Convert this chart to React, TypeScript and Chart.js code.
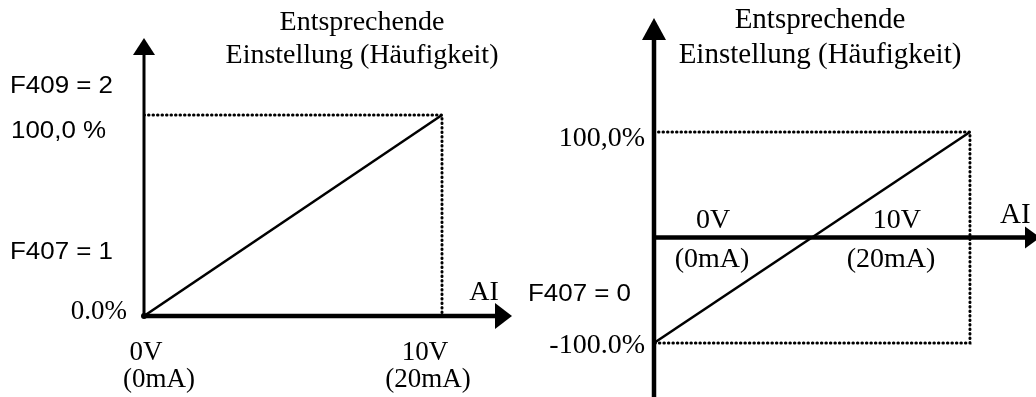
import React, { useEffect, useRef } from "react";
import { Chart, registerables } from "chart.js";

Chart.register(...registerables);

// ---- data ----
const AI_VOLTS = [0, 10];
const LEFT_SETTING = [0, 100];
const RIGHT_SETTING = [-100, 100];
const X_TICK_LABELS = ["0V", "10V"];
const X_TICK_SUBLABELS = ["(0mA)", "(20mA)"];
const LEFT_Y_LABELS = ["0.0%", "100,0 %"];
const RIGHT_Y_LABELS = ["-100.0%", "100,0%"];
const LEFT_PARAMS = ["F409 = 2", "F407 = 1"];
const RIGHT_PARAMS = ["F407 = 0"];
const TITLE_LINES = ["Entsprechende", "Einstellung (Häufigkeit)"];
const AXIS_NAME = "AI";

const SERIF = "'Liberation Serif', 'Times New Roman', serif";
const SANS = "'Liberation Sans', Arial, sans-serif";
const SANS_FONT = `24px ${SANS}`;
const SANS_SX = 1.08;

function txt(
  ctx: CanvasRenderingContext2D,
  s: string,
  x: number,
  y: number,
  font: string,
  align: CanvasTextAlign,
  sx = 1
) {
  ctx.save();
  ctx.font = font;
  ctx.fillStyle = "#000";
  ctx.textAlign = align;
  ctx.textBaseline = "alphabetic";
  ctx.translate(x, y);
  ctx.scale(sx, 1);
  ctx.fillText(s, 0, 0);
  ctx.restore();
}

function arrowUp(ctx: CanvasRenderingContext2D, x: number, tipY: number, hw: number, len: number) {
  ctx.beginPath();
  ctx.moveTo(x, tipY);
  ctx.lineTo(x - hw, tipY + len);
  ctx.lineTo(x + hw, tipY + len);
  ctx.closePath();
  ctx.fill();
}
function arrowRight(ctx: CanvasRenderingContext2D, tipX: number, y: number, hh: number, len: number) {
  ctx.beginPath();
  ctx.moveTo(tipX, y);
  ctx.lineTo(tipX - len, y - hh);
  ctx.lineTo(tipX - len, y + hh);
  ctx.closePath();
  ctx.fill();
}

type PanelProps = { side: "left" | "right" };

function Panel({ side }: PanelProps) {
  const ref = useRef<HTMLCanvasElement | null>(null);
  useEffect(() => {
    if (!ref.current) return;
    const isLeft = side === "left";
    const ys = isLeft ? LEFT_SETTING : RIGHT_SETTING;
    const mainData = AI_VOLTS.map((v, i) => ({ x: v, y: ys[i] }));
    const guide = isLeft
      ? [
          { x: AI_VOLTS[0], y: ys[1] },
          { x: AI_VOLTS[1], y: ys[1] },
          { x: AI_VOLTS[1], y: 0 },
        ]
      : [
          { x: AI_VOLTS[0], y: ys[1] },
          { x: AI_VOLTS[1], y: ys[1] },
          { x: AI_VOLTS[1], y: ys[0] },
          { x: AI_VOLTS[0], y: ys[0] },
        ];

    const decor = {
      id: "decor",
      afterDatasetsDraw(chart: any) {
        const ctx: CanvasRenderingContext2D = chart.ctx;
        const xs = chart.scales.x;
        const yS = chart.scales.y;
        const area = chart.chartArea;
        const x0 = xs.getPixelForValue(AI_VOLTS[0]);
        const x10 = xs.getPixelForValue(AI_VOLTS[1]);
        const y0 = yS.getPixelForValue(0);
        const yTop = yS.getPixelForValue(ys[1]);
        const yBot = yS.getPixelForValue(ys[0]);
        ctx.save();
        ctx.fillStyle = "#000";
        ctx.strokeStyle = "#000";
        ctx.lineCap = "butt";
        if (isLeft) {
          // y axis
          ctx.lineWidth = 3;
          ctx.beginPath();
          ctx.moveTo(x0, y0 + 2);
          ctx.lineTo(x0, area.top + 14);
          ctx.stroke();
          arrowUp(ctx, x0, area.top, 11, 17);
          // x axis
          ctx.lineWidth = 4.5;
          ctx.beginPath();
          ctx.moveTo(x0 - 1, y0);
          ctx.lineTo(area.right - 14, y0);
          ctx.stroke();
          arrowRight(ctx, area.right, y0, 13, 17);
          ctx.beginPath();
          ctx.arc(x0, y0, 3, 0, Math.PI * 2);
          ctx.fill();

          txt(ctx, LEFT_PARAMS[0], 10, yTop - 22, SANS_FONT, "left", SANS_SX);
          txt(ctx, LEFT_Y_LABELS[1], 11, yTop + 23, SANS_FONT, "left", SANS_SX);
          txt(ctx, LEFT_PARAMS[1], 10, y0 - 57, SANS_FONT, "left", SANS_SX);
          txt(ctx, LEFT_Y_LABELS[0], x0 - 17, y0 + 3, `27px ${SERIF}`, "right");
          txt(ctx, X_TICK_LABELS[0], x0 + 2, y0 + 44, `27px ${SERIF}`, "center");
          txt(ctx, X_TICK_SUBLABELS[0], x0 + 15, y0 + 71, `27px ${SERIF}`, "center");
          txt(ctx, X_TICK_LABELS[1], x10 - 17, y0 + 44, `27px ${SERIF}`, "center");
          txt(ctx, X_TICK_SUBLABELS[1], x10 - 14, y0 + 71, `27px ${SERIF}`, "center");
          txt(ctx, AXIS_NAME, area.right - 28, y0 - 16, `28px ${SERIF}`, "center");
          txt(ctx, TITLE_LINES[0], x0 + 218, 30, `28px ${SERIF}`, "center");
          txt(ctx, TITLE_LINES[1], x0 + 218, 63, `28px ${SERIF}`, "center");
        } else {
          ctx.lineWidth = 4.5;
          ctx.beginPath();
          ctx.moveTo(x0, area.bottom);
          ctx.lineTo(x0, area.top + 18);
          ctx.stroke();
          arrowUp(ctx, x0, area.top, 12, 22);
          ctx.beginPath();
          ctx.moveTo(x0 - 2, y0);
          ctx.lineTo(area.right - 8, y0);
          ctx.stroke();
          arrowRight(ctx, area.right + 4, y0, 11, 15);

          txt(ctx, RIGHT_Y_LABELS[1], x0 - 9, yTop + 14, `28px ${SERIF}`, "right");
          txt(ctx, RIGHT_Y_LABELS[0], x0 - 9, yBot + 10, `28px ${SERIF}`, "right");
          txt(ctx, RIGHT_PARAMS[0], 10, yBot - 42, SANS_FONT, "left", SANS_SX);
          txt(ctx, X_TICK_LABELS[0], x0 + 59, y0 - 10, `28px ${SERIF}`, "center");
          txt(ctx, X_TICK_SUBLABELS[0], x0 + 58, y0 + 29, `28px ${SERIF}`, "center");
          txt(ctx, X_TICK_LABELS[1], x10 - 73, y0 - 10, `28px ${SERIF}`, "center");
          txt(ctx, X_TICK_SUBLABELS[1], x10 - 79, y0 + 29, `28px ${SERIF}`, "center");
          txt(ctx, AXIS_NAME, area.right - 36, y0 - 15, `29px ${SERIF}`, "left");
          txt(ctx, TITLE_LINES[0], x0 + 166, 28, `29px ${SERIF}`, "center");
          txt(ctx, TITLE_LINES[1], x0 + 166, 63, `29px ${SERIF}`, "center");
        }
        ctx.restore();
      },
    };

    const chart = new Chart(ref.current, {
      type: "line",
      data: {
        datasets: [
          {
            data: guide,
            borderColor: "#000",
            borderWidth: 3,
            borderDash: [0.5, 4],
            borderCapStyle: "round",
            pointRadius: 0,
            fill: false,
          },
          {
            data: mainData,
            borderColor: "#000",
            borderWidth: 2.5,
            pointRadius: 0,
            fill: false,
          },
        ],
      },
      options: {
        responsive: false,
        animation: false,
        devicePixelRatio: 1,
        layout: {
          padding: isLeft
            ? { left: 144, right: 6, top: 38, bottom: 81 }
            : { left: 136, right: 0, top: 18, bottom: 0 },
        },
        scales: {
          x: {
            type: "linear",
            display: false,
            min: 0,
            max: isLeft ? 12.349 : 12.09,
          },
          y: {
            type: "linear",
            display: false,
            min: isLeft ? 0 : -151.2,
            max: isLeft ? 138.3 : 208.1,
          },
        },
        plugins: {
          legend: { display: false },
          tooltip: { enabled: false },
          title: { display: false },
        },
        elements: { line: { tension: 0 } },
      },
      plugins: [decor],
    });
    return () => chart.destroy();
  }, [side]);

  return (
    <canvas
      ref={ref}
      width={518}
      height={397}
      style={{ position: "absolute", top: 0, left: side === "left" ? 0 : 518, width: 518, height: 397 }}
    />
  );
}

export default function App() {
  return (
    <div
      style={{
        position: "absolute",
        top: 0,
        left: 0,
        width: 1036,
        height: 397,
        background: "#fff",
        overflow: "hidden",
      }}
    >
      <Panel side="left" />
      <Panel side="right" />
    </div>
  );
}
